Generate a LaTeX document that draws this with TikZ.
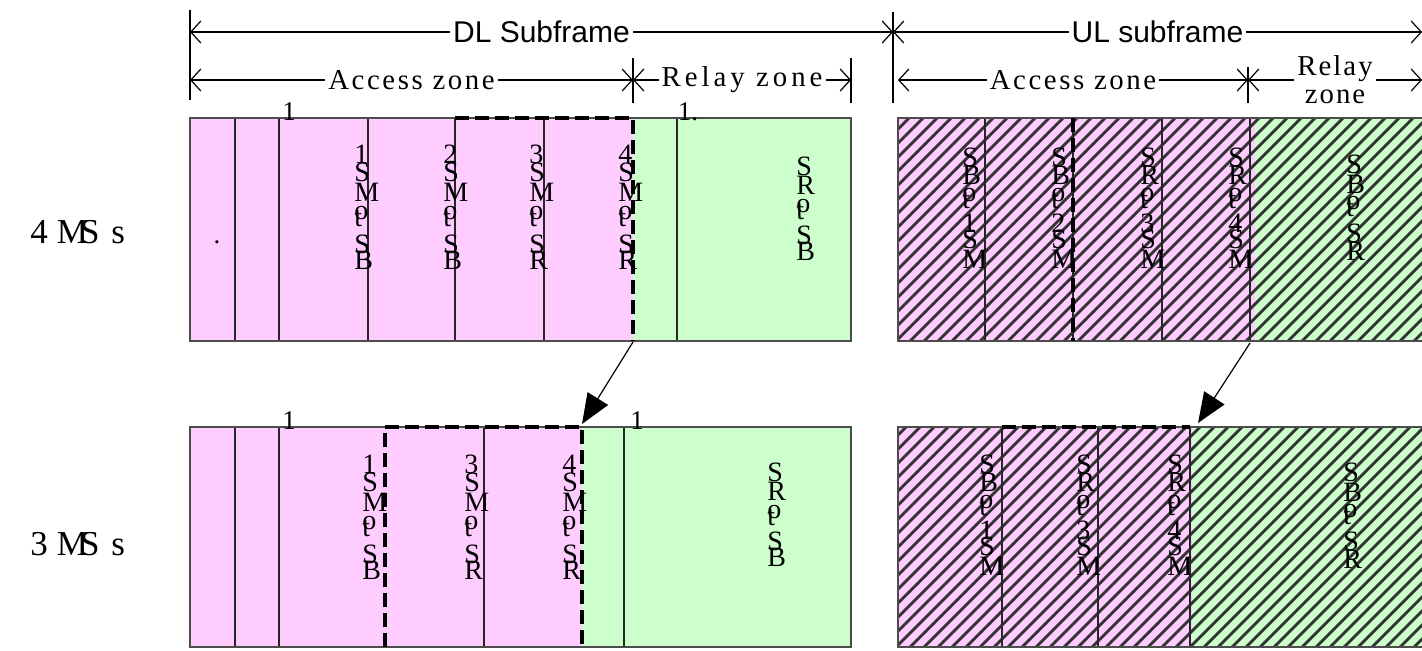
\documentclass[tikz,border=0pt]{standalone}
\usepackage{fontspec}
\setmainfont{Liberation Serif}
\setsansfont{Liberation Sans}
\usetikzlibrary{arrows.meta}

\definecolor{zpink}{RGB}{255,204,255}
\definecolor{zgreen}{RGB}{204,255,204}

% o and t set over one another
\newcommand{\ot}{\makebox[0pt][l]{\raisebox{3.5pt}{o}}t}
% let lines in a stack come closer than their letters
\newcommand{\tightstack}{\lineskiplimit=-20pt\relax}

% diagonal hatching inside a box
\newcommand{\hatchrect}[4]{%
  \begin{scope}
    \clip (#1,#2) rectangle (#3,#4);
    \foreach \hx in {-240,-226,...,560}
      \draw[hatchline] ({#1+\hx},#4) -- ++(240,-240);
  \end{scope}}

\tikzset{
  dimline/.style={line width=0.6pt,
    {Straight Barb[length=5pt,width=11pt]}-{Straight Barb[length=5pt,width=11pt]}},
  extline/.style={line width=0.6pt},
  dimtext/.style={fill=white, inner sep=1.5pt,
    font=\fontsize{14.4}{16}\selectfont\addfontfeature{LetterSpace=9}},
  dimsans/.style={fill=white, inner sep=1.5pt, font=\sffamily\fontsize{15}{17}\selectfont},
  vlab/.style={anchor=north west, inner sep=0pt, align=left,
    font=\fontsize{14}{9}\selectfont\tightstack},
  cellline/.style={line width=0.6pt, black!85},
  frame/.style={line width=0.6pt, black!70},
  dashbox/.style={line width=1.6pt, dash pattern=on 7pt off 3pt},
  hatchline/.style={line width=1.4pt, black!80},
  movearrow/.style={line width=0.6pt, -{Triangle[length=15pt,width=12pt]}},
  rowlab/.style={anchor=base west, inner sep=0pt, font=\fontsize{17.5}{20}\selectfont},
  tick/.style={anchor=base, inner sep=0pt, font=\fontsize{13.5}{14}\selectfont},
}

\begin{document}
\begin{tikzpicture}[x=0.5pt,y=-0.5pt]
	\useasboundingbox (0,0) rectangle (1422,650);

	% dimension lines
	\coordinate (dl0) at (190,32);
	\coordinate (dl1) at (893,32);
	\coordinate (ul1) at (1422,32);
	\coordinate (da0) at (190,80);
	\coordinate (da1) at (633,80);
	\coordinate (dr1) at (851,80);
	\coordinate (ua0) at (898,80);
	\coordinate (ua1) at (1248,80);
	\coordinate (ur1) at (1422,80);

	\draw[extline] (190,10) -- (190,100);
	\draw[extline] (893,12) -- (893,103);
	\draw[extline] (633,58) -- (633,103);
	\draw[extline] (851,58) -- (851,103);
	\draw[extline] (1248,67) -- (1248,103);

	\draw[dimline] (dl0) -- node[dimsans] (dlsub) {DL Subframe} (dl1);
	\draw[dimline] (dl1) -- node[dimsans] (ulsub) {UL subframe} (ul1);
	\draw[dimline] (da0) -- node[dimtext] (dlacc) {Access zone} (da1);
	\draw[dimline] (da1) -- node[dimtext, font=\fontsize{14.4}{16}\selectfont\addfontfeature{LetterSpace=14}] (dlrel) {Relay zone} (dr1);
	\draw[dimline] (ua0) -- node[dimtext] (ulacc) {Access zone} (ua1);
	\draw[dimline] (ua1) -- node[dimtext, align=center, font=\fontsize{14.4}{14}\selectfont\addfontfeature{LetterSpace=7}] (ulrel) {Relay\\zone} (ur1);

	% row labels
	\node[rowlab] (four) at (30,243) {4\kern4.5pt M\kern-4pt S\kern6pt s};
	\node[rowlab] (three) at (30,555) {3\kern4.5pt M\kern-4pt S\kern6pt s};

	% DL, 4 MSs
	\fill[zpink] (190,118) rectangle (633,341);
	\fill[zgreen] (633,118) rectangle (851,341);
	\foreach \cx in {235,279,368,455,544,677}
		\draw[cellline] (\cx,118) -- (\cx,341);
	\draw[frame] (190,118) rectangle (851,341);
	\draw[dashbox] (455,118) -- (633,118) -- (633,341);

	% DL, 3 MSs
	\fill[zpink] (190,427) rectangle (582,647);
	\fill[zgreen] (582,427) rectangle (851,647);
	\foreach \cx in {235,279,484,624}
		\draw[cellline] (\cx,427) -- (\cx,647);
	\draw[frame] (190,427) rectangle (851,647);
	\draw[dashbox] (385,647) -- (385,427) -- (582,427) -- (582,647);

	% UL, 4 MSs
	\fill[zpink] (898,118) rectangle (1255,341);
	\fill[zgreen] (1255,118) rectangle (1422,341);
	\hatchrect{898}{118}{1422}{341}
	\foreach \cx in {985,1073,1162,1250}
		\draw[cellline] (\cx,118) -- (\cx,341);
	\draw[frame] (1422,118) -- (898,118) -- (898,341) -- (1422,341);
	\draw[dashbox] (1073,118) -- (1073,341);

	% UL, 3 MSs
	\fill[zpink] (898,427) rectangle (1192,647);
	\fill[zgreen] (1192,427) rectangle (1422,647);
	\hatchrect{898}{427}{1422}{647}
	\foreach \cx in {1002,1098,1190}
		\draw[cellline] (\cx,427) -- (\cx,647);
	\draw[frame] (1422,427) -- (898,427) -- (898,647) -- (1422,647);
	\draw[dashbox] (1002,427) -- (1190,427);

	% small marks above the boxes
	\node[tick] (k1) at (289,120) {1};
	\node[tick] (k2) at (688,120) {1.};
	\node[tick] (k3) at (289,429) {1};
	\node[tick] (k4) at (637,429) {1};
	\node[tick] (dot) at (217,243) {.};

	% slot labels, DL
	\node[vlab] (d1) at (354,145) {1\\S\\[1pt]M\\[3.5pt]\ot\\[4.5pt]S\\[-1pt]B};
	\node[vlab] (d2) at (443,145) {2\\S\\[1pt]M\\[3.5pt]\ot\\[4.5pt]S\\[-1pt]B};
	\node[vlab] (d3) at (529,145) {3\\S\\[1pt]M\\[3.5pt]\ot\\[4.5pt]S\\[-1pt]R};
	\node[vlab] (d4) at (618,145) {4\\S\\[1pt]M\\[3.5pt]\ot\\[4.5pt]S\\[-1pt]R};
	\node[vlab] (dr) at (796,157) {S\\[0.5pt]R\\[3.5pt]\ot\\[3.5pt]S\\[-1pt]B};

	\node[vlab] (e1) at (362,455) {1\\S\\[1pt]M\\[3.5pt]\ot\\[4.5pt]S\\[-1pt]B};
	\node[vlab] (e3) at (464,455) {3\\S\\[1pt]M\\[3.5pt]\ot\\[4.5pt]S\\[-1pt]R};
	\node[vlab] (e4) at (562,455) {4\\S\\[1pt]M\\[3.5pt]\ot\\[4.5pt]S\\[-1pt]R};
	\node[vlab] (er) at (767,463) {S\\[0.5pt]R\\[3.5pt]\ot\\[3.5pt]S\\[-1pt]B};

	% slot labels, UL
	\node[vlab] (u1) at (962,148) {S\\B\\[3pt]\ot\\[3pt]1\\[-1pt]S\\[1pt]M};
	\node[vlab] (u2) at (1051,148) {S\\B\\[3pt]\ot\\[3pt]2\\[-1pt]S\\[1pt]M};
	\node[vlab] (u3) at (1140,148) {S\\R\\[3pt]\ot\\[3pt]3\\[-1pt]S\\[1pt]M};
	\node[vlab] (u4) at (1228,148) {S\\R\\[3pt]\ot\\[3pt]4\\[-1pt]S\\[1pt]M};
	\node[vlab] (ur) at (1346,155) {S\\[1pt]B\\[2.5pt]\ot\\[4pt]S\\R};

	\node[vlab] (v1) at (979,455) {S\\B\\[3pt]\ot\\[3pt]1\\[-1pt]S\\[1pt]M};
	\node[vlab] (v3) at (1076,455) {S\\R\\[3pt]\ot\\[3pt]3\\[-1pt]S\\[1pt]M};
	\node[vlab] (v4) at (1167,455) {S\\R\\[3pt]\ot\\[3pt]4\\[-1pt]S\\[1pt]M};
	\node[vlab] (vr) at (1343,463) {S\\[1pt]B\\[2.5pt]\ot\\[4pt]S\\R};

	% arrows between the rows
	\coordinate (m1s) at (633,342);
	\coordinate (m1e) at (582,424);
	\coordinate (m2s) at (1250,343);
	\coordinate (m2e) at (1198,423);
	\draw[movearrow] (m1s) -- (m1e);
	\draw[movearrow] (m2s) -- (m2e);

\end{tikzpicture}
\end{document}
